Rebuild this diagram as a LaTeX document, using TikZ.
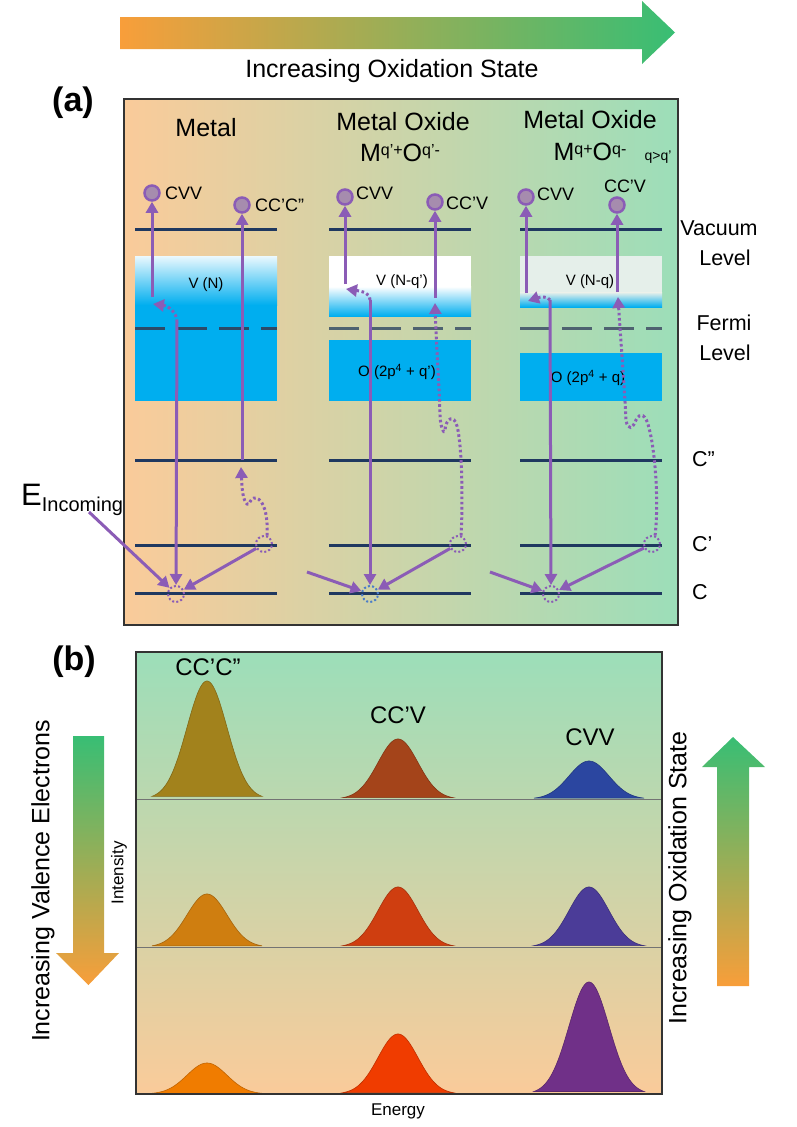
\documentclass[tikz,border=0pt]{standalone}
\usepackage{fontspec}
\setmainfont{Liberation Sans}
\usetikzlibrary{arrows.meta}
\definecolor{pur}{RGB}{139,92,182}
\definecolor{navy}{RGB}{31,56,96}
\definecolor{fermiA}{RGB}{44,74,104}
\definecolor{fermiB}{RGB}{78,98,112}
\definecolor{cyanb}{RGB}{0,174,239}
\definecolor{peach}{RGB}{250,203,154}
\definecolor{mint}{RGB}{156,222,185}
\definecolor{midc}{RGB}{221,212,164}
\definecolor{midb}{RGB}{212,214,168}
\definecolor{orng}{RGB}{248,158,58}
\definecolor{grn}{RGB}{56,190,116}
\definecolor{ballc}{RGB}{166,140,174}
\definecolor{holeblue}{RGB}{74,124,200}
\definecolor{paleV}{RGB}{229,239,234}
\definecolor{pkA}{RGB}{162,130,28}
\definecolor{pkB}{RGB}{164,68,26}
\definecolor{pkC}{RGB}{43,70,160}
\definecolor{pkD}{RGB}{207,126,16}
\definecolor{pkE}{RGB}{207,62,16}
\definecolor{pkF}{RGB}{75,60,152}
\definecolor{pkG}{RGB}{240,124,0}
\definecolor{pkH}{RGB}{240,60,0}
\definecolor{pkI}{RGB}{112,48,136}
\newcommand\mypeak[4]{\fill[#4, draw=#4!80!black, line width=0.6pt] plot[domain=-55:55, samples=90] ({#1+\x},{#2-#3*exp(-0.5*(\x/20)*(\x/20))}) -- cycle;}
\begin{document}
\begin{tikzpicture}[x=1pt,y=-1pt,
  level/.style={navy, line width=3pt},
  fermiline/.style={line width=3pt, dash pattern=on 30pt off 12pt},
  sarr/.style={pur, line width=3pt, -{Triangle[length=11pt,width=12pt]}},
  darr/.style={pur, line width=3pt, dash pattern=on 2.6pt off 2.6pt, -{Triangle[length=11pt,width=12pt]}},
  ball/.style={circle, draw=pur, line width=2.5pt, fill=ballc, minimum size=15pt, inner sep=0pt},
  hole/.style={circle, draw=pur, line width=2pt, dash pattern=on 2pt off 2.2pt, minimum size=16pt, inner sep=0pt},
  lab/.style={inner sep=0pt, font=\fontsize{18}{20}\selectfont},
  title/.style={inner sep=0pt, font=\fontsize{25}{28}\selectfont},
  side/.style={inner sep=0pt, font=\fontsize{21.5}{24}\selectfont},
  band/.style={inner sep=0pt, font=\fontsize{15}{17}\selectfont},
  boxline/.style={draw=black!80, line width=1.5pt},
  big/.style={inner sep=0pt, font=\fontsize{25}{28}\selectfont},
  panel/.style={inner sep=0pt, font=\fontsize{34}{36}\selectfont\bfseries}]
\useasboundingbox (0,0) rectangle (797,1127);

% top arrow
\shade[left color=orng, right color=grn] (120,17) -- (642,17) -- (642,1) -- (675,32.5) -- (642,64) -- (642,49) -- (120,49) -- cycle;
\node[big] (toplab) at (392,71) {Increasing Oxidation State};

\node[panel] (pa) at (73,103) {(a)};
\node[panel] (pb) at (74,662) {(b)};

% panel (a) background
\shade[left color=peach, middle color=midc, right color=mint] (124,99) rectangle (678,625);
\draw[boxline] (124,99) rectangle (678,625);

% bands column 1
\shade[top color=white!92!cyanb, bottom color=cyanb] (135,256) rectangle (277,305);
\fill[cyanb] (135,304.5) rectangle (277,401);
% column 2
\fill[white] (329,256) rectangle (471,287);
\shade[top color=white, bottom color=cyanb] (329,286.5) rectangle (471,316);
\fill[cyanb] (329,340) rectangle (471,401);
% column 3
\fill[paleV] (520,256) rectangle (662,293);
\shade[top color=paleV, bottom color=cyanb] (520,292.5) rectangle (662,307);
\fill[cyanb] (520,353) rectangle (662,401);

\node[band] (vb1) at (206,285) {V (N)};
\node[band] (vb2) at (402,282) {V (N-q’)};
\node[band] (vb3) at (590,282) {V (N-q)};
\node[band] (ob2) at (397,372) {O (2p\textsuperscript{4} + q’)};
\node[band] (ob3) at (588,378) {O (2p\textsuperscript{4} + q)};

% levels
\foreach \a/\b in {135/277, 329/471, 520/662}{
  \draw[level] (\a,229) -- (\b,229);
  \draw[level] (\a,460) -- (\b,460);
  \draw[level] (\a,545) -- (\b,545);
  \draw[level] (\a,593) -- (\b,593);
}
\draw[fermiline, fermiA] (135,328) -- (277,328);
\draw[fermiline, fermiB] (329,328) -- (471,328);
\draw[fermiline, fermiB] (520,328) -- (662,328);

% titles
\node[title] (t1) at (206,128) {Metal};
\node[title] (t2) at (403,122) {Metal Oxide};
\node[title] (t2b) at (400,153) {M\raisebox{6pt}{\fontsize{16}{16}\selectfont q’+}O\raisebox{6pt}{\fontsize{16}{16}\selectfont q’-}};
\node[title] (t3) at (590,120) {Metal Oxide};
\node[title] (t3b) at (590,152) {M\raisebox{6pt}{\fontsize{16}{16}\selectfont q+}O\raisebox{6pt}{\fontsize{16}{16}\selectfont q-}};
\node[inner sep=0pt, font=\fontsize{14}{16}\selectfont] (t3c) at (658,157) {q>q’};

% right side labels
\node[side] (vac) at (719,228) {Vacuum};
\node[side] (vacl) at (725,258) {Level};
\node[side] (fer) at (724,323) {Fermi};
\node[side] (ferl) at (725,353) {Level};
\node[side, anchor=west] (lc2) at (692,459) {C”};
\node[side, anchor=west] (lc1) at (692,544) {C’};
\node[side, anchor=west] (lc0) at (692,592) {C};

% E incoming
\node[inner sep=0pt, anchor=base west] (einc) at (21,505) {\fontsize{31}{33}\selectfont E\raisebox{-6pt}{\fontsize{20}{22}\selectfont Incoming}};

% ---------- column 1
\node[ball] (b1v) at (152,193) {};
\node[lab, anchor=west] (l1v) at (165,193) {CVV};
\coordinate (v1b) at (152,297);
\draw[sarr] (v1b) -- (b1v);
\coordinate (d1s) at (177,322);
\coordinate (d1e) at (153,304);
\draw[darr] (d1s) .. controls (177,312) and (168,306) .. (d1e);
\node[hole] (h1c) at (176,594) {};
\draw[sarr] (d1s) -- (h1c);
\node[ball] (b1c) at (242,205) {};
\node[lab, anchor=west] (l1c) at (255,205) {CC’C”};
\coordinate (c1b) at (242,460);
\draw[sarr] (c1b) -- (b1c);
\node[hole] (h1p) at (264,544) {};
\coordinate (w1e) at (241,467);
\draw[darr] (h1p.70) .. controls (268,515) and (264,500) .. (256,498) .. controls (249,497) and (250,507) .. (247,504) .. controls (243,500) and (242,490) .. (w1e);
\draw[sarr] (h1p) -- (h1c);
\coordinate (in1) at (89,512);
\draw[sarr] (in1) -- (h1c);

% ---------- column 2
\node[ball] (b2v) at (345,197) {};
\node[lab, anchor=west] (l2v) at (356,193) {CVV};
\coordinate (v2b) at (345,284);
\draw[sarr] (v2b) -- (b2v);
\coordinate (d2s) at (370,300);
\coordinate (d2e) at (346,289);
\draw[darr] (d2s) .. controls (370,292) and (360,291) .. (d2e);
\node[hole, draw=holeblue] (h2c) at (370,594) {};
\draw[sarr] (d2s) -- (h2c);
\node[ball] (b2c) at (435,202) {};
\node[lab, anchor=west] (l2c) at (446,203) {CC’V};
\coordinate (c2b) at (435,298);
\draw[sarr] (c2b) -- (b2c);
\node[hole] (h2p) at (458,544) {};
\coordinate (w2e) at (435,303);
\draw[darr] (h2p.70) .. controls (463,500) and (462,445) .. (457,426) .. controls (454,414) and (446,418) .. (445,430) .. controls (444,436) and (440,425) .. (440,415) .. controls (439,380) and (436,340) .. (w2e);
\draw[sarr] (h2p) -- (h2c);
\coordinate (in2) at (307,572);
\draw[sarr] (in2) -- (h2c);

% ---------- column 3
\node[ball] (b3v) at (526,197) {};
\node[lab, anchor=west] (l3v) at (537,194) {CVV};
\coordinate (v3b) at (526,293);
\draw[sarr] (v3b) -- (b3v);
\coordinate (d3s) at (550,300);
\coordinate (d3e) at (528,301);
\draw[darr] (d3s) .. controls (548,296) and (540,297) .. (d3e);
\node[hole] (h3c) at (551,594) {};
\draw[sarr] (d3s) -- (h3c);
\node[ball] (b3c) at (617,205) {};
\node[lab] (l3c) at (625,186) {CC’V};
\coordinate (c3b) at (617,292);
\draw[sarr] (c3b) -- (b3c);
\node[hole] (h3p) at (652,544) {};
\coordinate (w3e) at (618,297);
\draw[darr] (h3p.70) .. controls (659,500) and (655,450) .. (649,428) .. controls (646,414) and (640,412) .. (636,420) .. controls (633,428) and (628,432) .. (626,420) .. controls (624,380) and (620,330) .. (w3e);
\draw[sarr] (h3p) -- (h3c);
\coordinate (in3) at (490,572);
\draw[sarr] (in3) -- (h3c);

% ---------- panel (b)
\shade[top color=mint, middle color=midb, bottom color=peach] (136,652) rectangle (662,1094);
\mypeak{207}{799}{118}{pkA}
\mypeak{398}{799}{60}{pkB}
\mypeak{589}{799}{38}{pkC}
\mypeak{207}{947}{53}{pkD}
\mypeak{398}{947}{60}{pkE}
\mypeak{589}{947}{60}{pkF}
\mypeak{207}{1094}{31}{pkG}
\mypeak{398}{1094}{60}{pkH}
\mypeak{589}{1094}{112}{pkI}
\draw[black!55, line width=1pt] (136,799) -- (662,799);
\draw[black!55, line width=1pt] (136,947) -- (662,947);
\draw[boxline] (136,652) rectangle (662,1094);

\node[inner sep=0pt, font=\fontsize{24}{26}\selectfont] (pl1) at (208,667) {CC’C”};
\node[inner sep=0pt, font=\fontsize{24}{26}\selectfont] (pl2) at (398,715) {CC’V};
\node[inner sep=0pt, font=\fontsize{24}{26}\selectfont] (pl3) at (590,737) {CVV};
\node[inner sep=0pt, font=\fontsize{17}{19}\selectfont, rotate=90] (ylab) at (119,873) {Intensity};
\node[inner sep=0pt, font=\fontsize{17}{19}\selectfont] (xlab) at (398,1111) {Energy};

% side arrows
\shade[top color=grn, bottom color=orng] (73,736) -- (104,736) -- (104,953) -- (119,953) -- (88.5,985) -- (56,953) -- (73,953) -- cycle;
\node[big, rotate=90] (lval) at (43,881) {Increasing Valence Electrons};
\shade[top color=grn, bottom color=orng] (717,986) -- (749,986) -- (749,767) -- (765,767) -- (733,737) -- (702,767) -- (717,767) -- cycle;
\node[big, rotate=90] (rox) at (680,878) {Increasing Oxidation State};
\end{tikzpicture}
\end{document}
